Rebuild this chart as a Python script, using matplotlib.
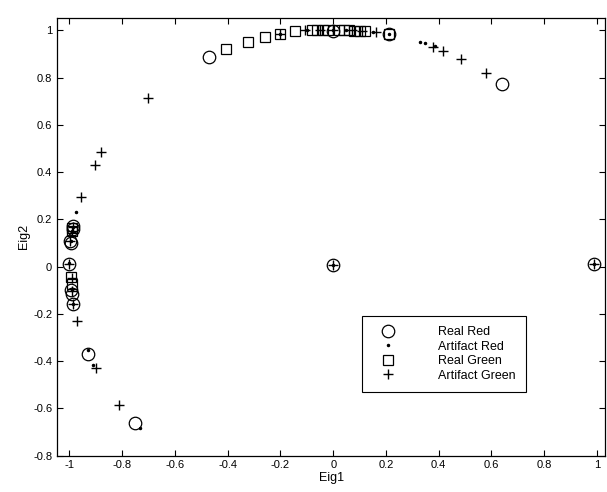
import matplotlib
matplotlib.use("Agg")
import matplotlib.pyplot as plt
from matplotlib.ticker import FormatStrFormatter

plt.rcParams['font.family'] = ['Liberation Sans', 'DejaVu Sans']
plt.rcParams['axes.unicode_minus'] = False

# eigenvector coordinates, one pair of lists per class
real_red_x = [-0.988, -0.985, -0.997, -0.995, -1.0, -0.995, -0.99, -0.985,
              -0.93, -0.75, -0.47, 0.0, 0.212, 0.64, 0.0, 0.99]
real_red_y = [0.171, 0.16, 0.109, 0.10, 0.013, -0.10, -0.115, -0.16,
              -0.369, -0.662, 0.887, 0.998, 0.984, 0.774, 0.005, 0.012]

art_red_x = [-0.975, -0.985, -0.99, -0.995, -1.0, -0.99, -0.985, -0.93,
             -0.911, -0.731, 0.328, 0.347, 0.385, 0.212, -0.1, 0.0, 0.05,
             0.15, -0.2, 0.0, 0.99]
art_red_y = [0.233, 0.17, 0.15, 0.11, 0.015, -0.10, -0.16, -0.355,
             -0.416, -0.685, 0.951, 0.947, 0.935, 0.983, 1.0, 1.0, 1.0,
             0.995, 0.985, 0.005, 0.012]

real_green_x = [-0.408, -0.323, -0.257, -0.203, -0.146, -0.08, -0.06, -0.04,
                -0.02, 0.02, 0.04, 0.06, 0.08, 0.10, 0.12, 0.212,
                -0.99, -0.99, -0.995, -0.99]
real_green_y = [0.922, 0.951, 0.972, 0.985, 0.996, 1.0, 1.0, 1.0,
                1.0, 1.0, 1.0, 1.0, 0.999, 0.998, 0.997, 0.983,
                0.165, 0.15, -0.045, -0.075]

art_green_x = [-0.703, -0.88, -0.904, -0.958, -0.988, -0.99, -0.997, -1.0,
               -0.99, -0.99, -0.985, -0.971, -0.899, -0.813, -0.203, -0.108,
               -0.05, 0.0, 0.07, 0.11, 0.164, 0.379, 0.417, 0.484, 0.579,
               0.0, 0.99]
art_green_y = [0.716, 0.484, 0.431, 0.293, 0.17, 0.15, 0.11, 0.013,
               -0.05, -0.105, -0.16, -0.232, -0.43, -0.586, 0.985, 1.003,
               1.0, 1.0, 1.0, 0.998, 0.993, 0.932, 0.915, 0.88, 0.822,
               0.005, 0.012]

xticks = [-1, -0.8, -0.6, -0.4, -0.2, 0, 0.2, 0.4, 0.6, 0.8, 1]
yticks = [-0.8, -0.6, -0.4, -0.2, 0, 0.2, 0.4, 0.6, 0.8, 1]

fig = plt.figure(figsize=(6.07, 4.92), dpi=100)
ax = fig.add_axes([0.094, 0.074, 0.903, 0.889])

ax.plot(real_red_x, real_red_y, 'o', mfc='none', mec='k', ms=9, mew=0.9,
        label='Real Red')
ax.plot(art_red_x, art_red_y, '.', color='k', ms=3, label='Artifact Red')
ax.plot(real_green_x, real_green_y, 's', mfc='none', mec='k', ms=7.5,
        mew=0.9, label='Real Green')
ax.plot(art_green_x, art_green_y, '+', color='k', ms=7, mew=1.0,
        label='Artifact Green')

ax.set_xlim(-1.047, 1.031)
ax.set_ylim(-0.8, 1.052)
ax.set_xticks(xticks)
ax.set_yticks(yticks)
ax.xaxis.set_major_formatter(FormatStrFormatter('%g'))
ax.yaxis.set_major_formatter(FormatStrFormatter('%g'))
ax.tick_params(direction='in', top=True, right=True, labelsize=8,
               length=4, width=0.8)
for s in ax.spines.values():
    s.set_linewidth(0.9)

ax.set_xlabel('Eig1', fontsize=9, labelpad=1)
ax.set_ylabel('Eig2', fontsize=9, labelpad=2)

leg = ax.legend(loc='upper left', bbox_to_anchor=(0.5566, 0.319),
                fontsize=9, fancybox=False, edgecolor='k', framealpha=1,
                borderpad=0.8, handlelength=2.5, handletextpad=2.8,
                labelspacing=0.2, borderaxespad=0)
leg.get_frame().set_linewidth(0.8)

fig.savefig('out.png', dpi=100)
